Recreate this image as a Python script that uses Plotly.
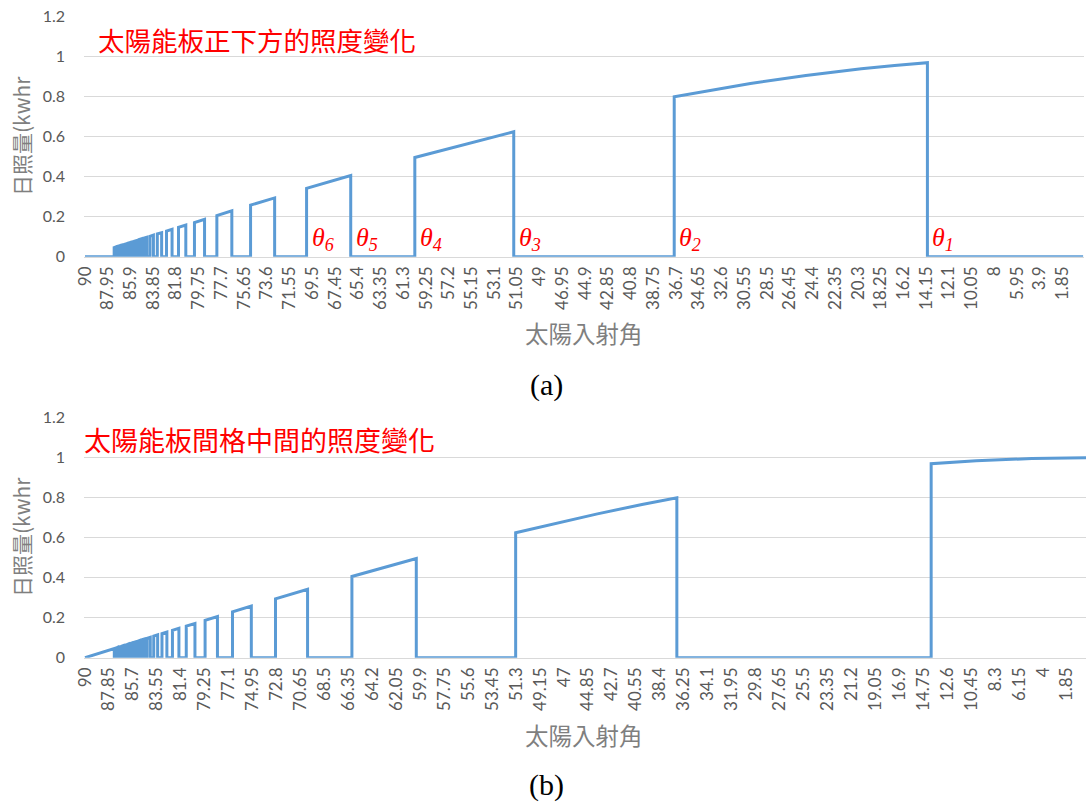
import plotly.graph_objects as go

# ---------------- data ----------------
# Sun incidence angle (deg) on the x axis, daily irradiation (kWh) on the y axis.
# Each lit interval is listed from its larger angle to its smaller angle;
# outside the listed intervals the value is 0.

# (a) point directly below a solar panel
top_lit_angles = [
    [87.37, 87.31], [87.24, 87.17], [87.10, 87.03], [86.95, 86.86],
    [86.78, 86.68], [86.58, 86.48], [86.37, 86.25], [86.12, 85.99],
    [85.84, 85.68], [85.52, 85.33], [85.14, 84.92], [84.69, 84.43],
    [84.14, 83.83], [83.48, 83.09], [82.65, 82.15], [81.57, 80.91],
    [80.13, 79.22], [78.11, 76.76], [75.07, 72.90], [70.02, 66.04],
    [60.26, 56.0, 51.34],
    [36.87, 33.5, 30.0, 25.0, 20.0, 17.0, 14.04],
]
top_lit_values = [
    [0.046, 0.047], [0.048, 0.049], [0.051, 0.052], [0.053, 0.055],
    [0.056, 0.058], [0.060, 0.061], [0.063, 0.065], [0.068, 0.070],
    [0.073, 0.075], [0.078, 0.081], [0.085, 0.089], [0.093, 0.097],
    [0.102, 0.108], [0.114, 0.120], [0.128, 0.137], [0.147, 0.158],
    [0.171, 0.187], [0.206, 0.229], [0.258, 0.294], [0.342, 0.406],
    [0.496, 0.559, 0.625],
    [0.800, 0.834, 0.866, 0.906, 0.940, 0.956, 0.970],
]

# (b) point midway between two panels
bottom_lit_angles = [
    [90.0, 88.5, 87.37],
    [87.31, 87.24], [87.17, 87.10], [87.03, 86.95], [86.86, 86.78],
    [86.68, 86.58], [86.48, 86.37], [86.25, 86.12], [85.99, 85.84],
    [85.68, 85.52], [85.33, 85.14], [84.92, 84.69], [84.43, 84.14],
    [83.83, 83.48], [83.09, 82.65], [82.15, 81.57], [80.91, 80.13],
    [79.22, 78.11], [76.76, 75.07], [72.90, 70.02], [66.04, 63.0, 60.26],
    [51.34, 48.0, 44.0, 40.0, 36.87],
    [14.04, 10.0, 5.0, 0.0],
]
bottom_lit_values = [
    [0.000, 0.026, 0.046],
    [0.047, 0.048], [0.049, 0.051], [0.052, 0.053], [0.055, 0.056],
    [0.058, 0.060], [0.061, 0.063], [0.065, 0.068], [0.070, 0.073],
    [0.075, 0.078], [0.081, 0.085], [0.089, 0.093], [0.097, 0.102],
    [0.108, 0.114], [0.120, 0.128], [0.137, 0.147], [0.158, 0.171],
    [0.187, 0.206], [0.229, 0.258], [0.294, 0.342], [0.406, 0.454, 0.496],
    [0.625, 0.669, 0.719, 0.766, 0.800],
    [0.970, 0.985, 0.996, 1.000],
]

# category labels shown on each x axis
top_tick_labels = [
    "90", "87.95", "85.9", "83.85", "81.8", "79.75", "77.7", "75.65", "73.6",
    "71.55", "69.5", "67.45", "65.4", "63.35", "61.3", "59.25", "57.2", "55.15",
    "53.1", "51.05", "49", "46.95", "44.9", "42.85", "40.8", "38.75", "36.7",
    "34.65", "32.6", "30.55", "28.5", "26.45", "24.4", "22.35", "20.3", "18.25",
    "16.2", "14.15", "12.1", "10.05", "8", "5.95", "3.9", "1.85",
]
bottom_tick_labels = [
    "90", "87.85", "85.7", "83.55", "81.4", "79.25", "77.1", "74.95", "72.8",
    "70.65", "68.5", "66.35", "64.2", "62.05", "59.9", "57.75", "55.6", "53.45",
    "51.3", "49.15", "47", "44.85", "42.7", "40.55", "38.4", "36.25", "34.1",
    "31.95", "29.8", "27.65", "25.5", "23.35", "21.2", "19.05", "16.9", "14.75",
    "12.6", "10.45", "8.3", "6.15", "4", "1.85",
]

# transition angles marked on chart (a)
theta_names = ["1", "2", "3", "4", "5", "6"]
theta_angles = [14.04, 36.87, 51.34, 60.26, 66.04, 70.02]


def build_series(lit_angles, lit_values, first=90.0, last=0.0):
    """Turn lit intervals into one polyline with vertical jumps at the edges."""
    xs, ys = [first], [0.0]
    for a, v in zip(lit_angles, lit_values):
        xs += [a[0]] + list(a) + [a[-1]]
        ys += [0.0] + list(v) + [0.0]
    xs.append(last)
    ys.append(0.0)
    return xs, ys


W, H = 1086, 803
LINE = "#5b9bd5"
GRID = "#d9d9d9"
TICK = "#595959"
TITLE_GRAY = "#7f7f7f"
RED = "#ff0000"
NUM_FONT = "Lato"
CJK_FONT = "Noto Sans CJK TC"


def px(x):
    return x / W


def py(y):
    return 1 - y / H


fig = go.Figure()

tx, ty = build_series(top_lit_angles, top_lit_values)
bx, by = build_series(bottom_lit_angles, bottom_lit_values)

fig.add_trace(go.Scatter(x=tx, y=ty, mode="lines", xaxis="x", yaxis="y",
                         line=dict(color=LINE, width=3), hoverinfo="skip"))
fig.add_trace(go.Scatter(x=bx, y=by, mode="lines", xaxis="x2", yaxis="y2",
                         line=dict(color=LINE, width=3), hoverinfo="skip"))

xcommon = dict(
    tickmode="array", tickangle=-90, ticks="", showgrid=False, zeroline=False,
    showline=True, linecolor=GRID, linewidth=1, automargin=False,
    ticklabelstandoff=2,
    tickfont=dict(family=NUM_FONT, size=17, color=TICK),
)
ycommon = dict(
    range=[0, 1.2], dtick=0.2, tick0=0, ticks="", showgrid=True, gridcolor=GRID,
    gridwidth=1, zeroline=False, showline=False, ticklabelstandoff=18,
    automargin=False,
    tickfont=dict(family=NUM_FONT, size=16, color=TICK),
)

fig.update_layout(
    width=W, height=H,
    margin=dict(l=0, r=0, t=0, b=0, pad=0, autoexpand=False),
    paper_bgcolor="white", plot_bgcolor="white",
    showlegend=False,
    xaxis=dict(domain=[px(84), px(1084)], range=[90.09, -0.08], anchor="y",
               tickvals=[float(s) for s in top_tick_labels],
               ticktext=top_tick_labels, **xcommon),
    yaxis=dict(domain=[py(256.7), py(16.7)], anchor="x", **ycommon),
    xaxis2=dict(domain=[px(84), 1.0], range=[90.09, 0.14], anchor="y2",
                tickvals=[float(s) for s in bottom_tick_labels],
                ticktext=bottom_tick_labels, **xcommon),
    yaxis2=dict(domain=[py(657.7), py(417.7)], anchor="x2", **ycommon),
)

ann = []
# chart titles
ann.append(dict(text="太陽能板正下方的照度變化", x=px(96), y=py(40), xref="paper", yref="paper",
                xanchor="left", yanchor="middle", showarrow=False,
                font=dict(family=CJK_FONT, size=26.5, color=RED)))
ann.append(dict(text="太陽能板間格中間的照度變化", x=px(82), y=py(439), xref="paper", yref="paper",
                xanchor="left", yanchor="middle", showarrow=False,
                font=dict(family=CJK_FONT, size=27, color=RED)))
# axis titles
for yc in (333, 735):
    ann.append(dict(text="太陽入射角", x=px(584), y=py(yc), xref="paper", yref="paper",
                    xanchor="center", yanchor="middle", showarrow=False,
                    font=dict(family=CJK_FONT, size=23.5, color=TITLE_GRAY)))
for yc in (136, 537):
    ann.append(dict(text="日照量(kwhr", x=px(21), y=py(yc), xref="paper", yref="paper",
                    xanchor="center", yanchor="middle", showarrow=False, textangle=-90,
                    font=dict(family=CJK_FONT, size=21, color=TITLE_GRAY)))
# panel captions
for cap, yc in (("(a)", 385), ("(b)", 785)):
    ann.append(dict(text=cap, x=px(546), y=py(yc), xref="paper", yref="paper",
                    xanchor="center", yanchor="middle", showarrow=False,
                    font=dict(family="Liberation Serif", size=30, color="black")))
# theta markers
for name, ang in zip(theta_names, theta_angles):
    ann.append(dict(text=f"<i>θ</i><sub><i>{name}</i></sub>", x=ang, y=0,
                    xref="x", yref="y", xanchor="left", yanchor="bottom",
                    xshift=3, yshift=0, showarrow=False,
                    font=dict(family="Liberation Serif", size=26, color=RED)))

fig.update_layout(annotations=ann)

fig.write_html("out.html")
